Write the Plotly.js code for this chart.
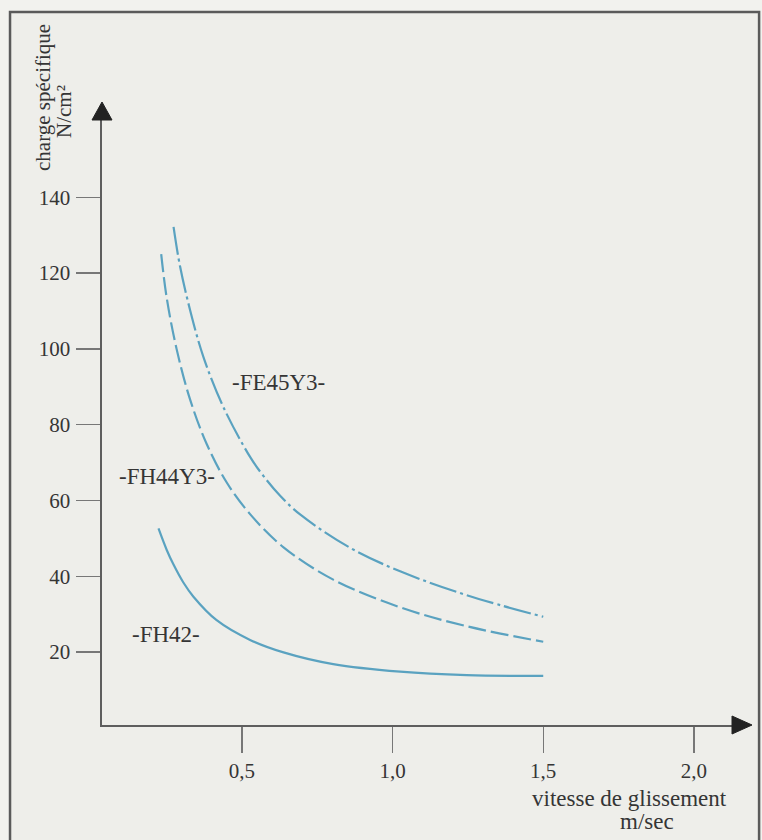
<!DOCTYPE html>
<html>
<head>
<meta charset="utf-8">
<script src="https://cdn.plot.ly/plotly-3.0.1.min.js"></script>
<style>
  html, body { margin: 0; padding: 0; background: #f2f2ee; }
  #chart { width: 762px; height: 840px; }
</style>
</head>
<body>
<div id="chart"></div>
<script>
// ---- data ----
var xFH42 = [0.223, 0.25, 0.272, 0.305, 0.339, 0.416, 0.527, 0.638, 0.803, 1.025, 1.246, 1.5];
var yFH42 = [52.6, 47.0, 43.2, 38.4, 34.6, 28.4, 23.2, 19.9, 16.8, 14.8, 13.9, 13.7];

var xFH44Y3 = [0.232, 0.25, 0.283, 0.328, 0.383, 0.449, 0.527, 0.637, 0.803, 1.025, 1.246, 1.5];
var yFH44Y3 = [125.0, 113.6, 100.0, 86.6, 74.9, 64.8, 56.4, 47.7, 39.1, 31.8, 26.8, 22.7];

var xFE45Y3 = [0.273, 0.294, 0.328, 0.372, 0.438, 0.527, 0.571, 0.626, 0.693, 0.859, 1.025, 1.246, 1.5];
var yFE45Y3 = [132.2, 122.0, 110.2, 97.9, 84.7, 71.5, 66.5, 61.3, 56.3, 47.5, 41.3, 35.0, 29.3];

var seriesNames = ['-FH42-', '-FH44Y3-', '-FE45Y3-'];

var xTickVals = [0.5, 1.0, 1.5, 2.0];
var xTickText = ['0,5', '1,0', '1,5', '2,0'];
var yTickVals = [20, 40, 60, 80, 100, 120, 140];
var yTickText = ['20', '40', '60', '80', '100', '120', '140'];

var yTitleLines = ['charge spécifique', 'N/cm²'];
var xTitleLines = ['vitesse de glissement', 'm/sec'];

// ---- styling ----
var serif = '"Liberation Serif", "Times New Roman", serif';
var textCol = '#353535';
var curveCol = '#5aa2c0';

var traces = [
  { x: xFH42, y: yFH42, name: seriesNames[0], mode: 'lines',
    line: { color: curveCol, width: 2.2, shape: 'spline', smoothing: 1 } },
  { x: xFH44Y3, y: yFH44Y3, name: seriesNames[1], mode: 'lines',
    line: { color: curveCol, width: 2.2, shape: 'spline', smoothing: 1, dash: '18px,5px' } },
  { x: xFE45Y3, y: yFE45Y3, name: seriesNames[2], mode: 'lines',
    line: { color: curveCol, width: 2.2, shape: 'spline', smoothing: 1, dash: '28px,4px,3px,4px' } }
];

var layout = {
  width: 762, height: 840,
  margin: { l: 102, r: 30, t: 120, b: 115 },
  paper_bgcolor: '#f2f2ee',
  plot_bgcolor: 'rgba(0,0,0,0)',
  showlegend: false,
  font: { family: serif, color: textCol },
  xaxis: {
    range: [0.0355, 2.1265],
    showgrid: false, zeroline: false,
    showline: true, linecolor: '#5e5e5e', linewidth: 1.6,
    ticks: 'outside', ticklen: 26, tickwidth: 1.4, tickcolor: '#777',
    tickvals: xTickVals, ticktext: xTickText,
    tickfont: { family: serif, size: 21, color: textCol }
  },
  yaxis: {
    range: [0.74, 160.4],
    showgrid: false, zeroline: false,
    showline: true, linecolor: '#5e5e5e', linewidth: 1.6,
    ticks: 'outside', ticklen: 24, tickwidth: 1.4, tickcolor: '#777',
    tickvals: yTickVals, ticktext: yTickText,
    ticklabelstandoff: 2,
    tickfont: { family: serif, size: 21, color: textCol }
  },
  shapes: [
    { type: 'rect', xref: 'paper', yref: 'paper', layer: 'below',
      x0: -0.146, x1: 1.043, y0: -0.21, y1: 1.1785,
      fillcolor: '#eeeeea', line: { color: '#5a5a5a', width: 2.5 } },
    { type: 'path', xref: 'paper', yref: 'paper', xsizemode: 'pixel', ysizemode: 'pixel',
      xanchor: 0, yanchor: 1, path: 'M -10 0 L 10 0 L 0 18 Z',
      fillcolor: '#222', line: { color: '#222', width: 1 } },
    { type: 'path', xref: 'paper', yref: 'paper', xsizemode: 'pixel', ysizemode: 'pixel',
      xanchor: 1, yanchor: 0, path: 'M 0 9 L 0 -9 L 20 0 Z',
      fillcolor: '#222', line: { color: '#222', width: 1 } }
  ],
  annotations: [
    { text: yTitleLines[0], xref: 'paper', yref: 'paper', x: 0, y: 1,
      xshift: -59, yshift: 22, textangle: -90, showarrow: false,
      xanchor: 'center', yanchor: 'middle', font: { family: serif, size: 21, color: textCol } },
    { text: yTitleLines[1], xref: 'paper', yref: 'paper', x: 0, y: 1,
      xshift: -38, yshift: 8, textangle: -90, showarrow: false,
      xanchor: 'center', yanchor: 'middle', font: { family: serif, size: 21, color: textCol } },
    { text: xTitleLines[0], xref: 'paper', yref: 'paper', x: 1, y: 0,
      xshift: -103, yshift: -73, showarrow: false,
      xanchor: 'center', yanchor: 'middle', font: { family: serif, size: 23, color: textCol } },
    { text: xTitleLines[1], xref: 'paper', yref: 'paper', x: 1, y: 0,
      xshift: -85, yshift: -96, showarrow: false,
      xanchor: 'center', yanchor: 'middle', font: { family: serif, size: 23, color: textCol } },
    { text: seriesNames[2], x: 0.62, y: 91, showarrow: false,
      xanchor: 'center', yanchor: 'middle', font: { family: serif, size: 23, color: textCol } },
    { text: seriesNames[1], x: 0.252, y: 66.2, showarrow: false,
      xanchor: 'center', yanchor: 'middle', font: { family: serif, size: 23, color: textCol } },
    { text: seriesNames[0], x: 0.248, y: 24.7, showarrow: false,
      xanchor: 'center', yanchor: 'middle', font: { family: serif, size: 23, color: textCol } }
  ]
};

Plotly.newPlot('chart', traces, layout, { displayModeBar: false, staticPlot: true });
</script>
</body>
</html>
